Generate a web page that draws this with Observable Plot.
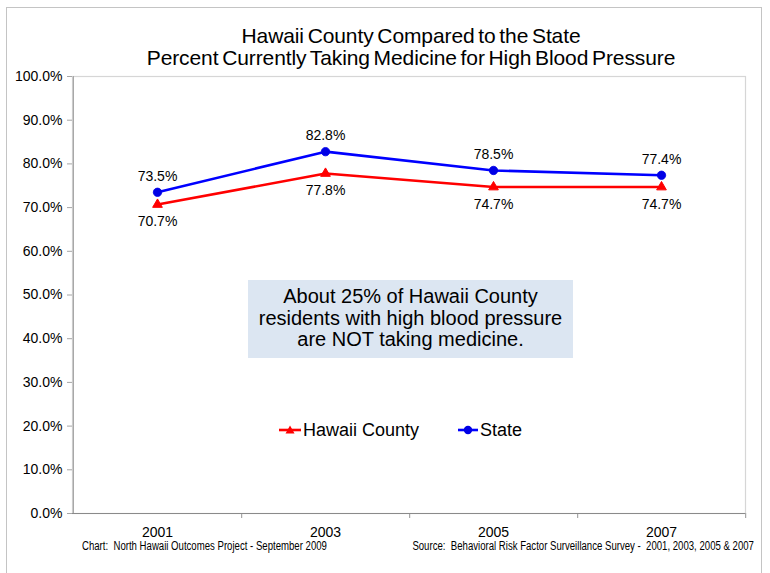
<!DOCTYPE html>
<html>
<head>
<meta charset="utf-8">
<script src="https://cdn.jsdelivr.net/npm/d3@7"></script>
<script src="https://cdn.jsdelivr.net/npm/@observablehq/plot@0.6"></script>
<style>
  html, body { margin: 0; padding: 0; background: #fff; }
  #wrap { position: relative; width: 770px; height: 573px; overflow: hidden; font-family: "Liberation Sans", Arial, sans-serif; color: #000; }
  #frame { position: absolute; left: 6px; top: 7px; width: 756px; height: 600px; border: 1.5px solid #c4c4c4; box-sizing: border-box; }
  .title { position: absolute; left: 0; width: 822px; text-align: center; font-size: 21px; line-height: 24px; word-spacing: -2px; letter-spacing: -0.1px; white-space: nowrap; }
  #note { position: absolute; left: 248px; top: 280px; width: 325px; height: 78px; background: #dce6f2; text-align: center; font-size: 20px; line-height: 21.5px; padding-top: 6px; box-sizing: border-box; }
  #legend { position: absolute; top: 419px; left: 278px; font-size: 18px; line-height: 22px; display: flex; align-items: center; }
  #legend .item { display: flex; align-items: center; }
  .foot { position: absolute; top: 540px; font-size: 12px; line-height: 13px; white-space: pre; transform: scaleX(0.8); }
  svg { position: absolute; left: 0; top: 0; }
</style>
</head>
<body>
<div id="wrap">
  <div id="frame"></div>
  <div id="chart"></div>
  <div class="title" id="t1" style="top:24px"></div>
  <div class="title" id="t2" style="top:46px"></div>
  <div id="note"></div>
  <div id="legend"></div>
  <div class="foot" id="f1" style="left:82px; transform-origin: left center;"></div>
  <div class="foot" id="f2" style="right:16px; transform-origin: right center;"></div>
</div>
<script>
// ---- data ----
const years = ["2001", "2003", "2005", "2007"];
const hawaiiCounty = [0.707, 0.778, 0.747, 0.747];
const state = [0.735, 0.828, 0.785, 0.774];
const seriesNames = ["Hawaii County", "State"];
const seriesColors = ["#ff0000", "#0000ff"];
const yTicks = [0, 0.1, 0.2, 0.3, 0.4, 0.5, 0.6, 0.7, 0.8, 0.9, 1.0];
const titleLines = ["Hawaii County Compared to the State", "Percent Currently Taking Medicine for High Blood Pressure"];
const noteLines = ["About 25% of Hawaii County", "residents with high blood pressure", "are NOT taking medicine."];
const footLeft = "Chart:  North Hawaii Outcomes Project - September 2009";
const footRight = "Source:  Behavioral Risk Factor Surveillance Survey -  2001, 2003, 2005 & 2007";

// ---- layout ----
const W = 770, H = 573;
const mTop = 76, mRight = 25, mBottom = 60, mLeft = 72;
const plotW = W - mLeft - mRight, plotH = H - mTop - mBottom;
const bw = plotW / years.length;

const countyData = years.map((y, i) => ({year: y, value: hawaiiCounty[i]}));
const stateData = years.map((y, i) => ({year: y, value: state[i]}));

const fmt = d3.format(".1%");

const chart = Plot.plot({
  width: W, height: H,
  marginTop: mTop, marginRight: mRight, marginBottom: mBottom, marginLeft: mLeft,
  style: {fontFamily: "'Liberation Sans', Arial, sans-serif", color: "#000", background: "transparent", overflow: "visible"},
  x: {type: "band", domain: years, padding: 0, label: null},
  y: {domain: [0, 1], label: null},
  marks: [
    Plot.frame({stroke: "#d6d6d6", strokeWidth: 1.2}),
    Plot.axisY({ticks: yTicks, tickFormat: fmt, tickSize: 5, tickPadding: 5, fontSize: 14, stroke: "#a6a6a6", fill: "#000", label: null}),
    Plot.axisX({tickSize: 0, tickPadding: 14, fontSize: 14, fill: "#000", label: null}),
    Plot.ruleX([years[0]], {dx: -bw / 2, stroke: "#a6a6a6", strokeWidth: 1.2}),
    Plot.ruleX(years, {dx: bw / 2, insetTop: plotH, insetBottom: -5, stroke: "#a6a6a6", strokeWidth: 1.2}),
    Plot.ruleY([0], {stroke: "#8a8a8a", strokeWidth: 1.2}),
    Plot.line(countyData, {x: "year", y: "value", stroke: seriesColors[0], strokeWidth: 2.6}),
    Plot.line(stateData, {x: "year", y: "value", stroke: seriesColors[1], strokeWidth: 2.6}),
    Plot.dot(countyData, {x: "year", y: "value", symbol: "triangle", r: 3.6, fill: seriesColors[0], stroke: seriesColors[0], strokeWidth: 1}),
    Plot.dot(stateData, {x: "year", y: "value", r: 4.2, fill: "#0000e6", stroke: "#0000e6", strokeWidth: 0.8}),
    Plot.text(countyData, {x: "year", y: "value", text: d => fmt(d.value), dy: 17, fontSize: 14, fill: "#000"}),
    Plot.text(stateData, {x: "year", y: "value", text: d => fmt(d.value), dy: -16, fontSize: 14, fill: "#000"})
  ]
});
document.getElementById("chart").appendChild(chart);

document.getElementById("t1").textContent = titleLines[0];
document.getElementById("t2").textContent = titleLines[1];
document.getElementById("note").innerHTML = noteLines.join("<br>");
document.getElementById("f1").textContent = footLeft;
document.getElementById("f2").textContent = footRight;

// legend
const legend = document.getElementById("legend");
const symbols = [
  `<svg width="24" height="12" style="position:static"><line x1="1" y1="6" x2="23" y2="6" stroke="${seriesColors[0]}" stroke-width="2.6"/><path d="M12,1.5 L16.5,9.5 L7.5,9.5 Z" fill="${seriesColors[0]}"/></svg>`,
  `<svg width="22" height="12" style="position:static"><line x1="1" y1="6" x2="21" y2="6" stroke="${seriesColors[1]}" stroke-width="2.6"/><circle cx="11" cy="6" r="4.2" fill="#0000e6"/></svg>`
];
seriesNames.forEach((name, i) => {
  const item = document.createElement("div");
  item.className = "item";
  item.style.marginRight = i === 0 ? "38px" : "0";
  item.innerHTML = symbols[i] + `<span style="margin-left:1px">${name}</span>`;
  legend.appendChild(item);
});
</script>
</body>
</html>
